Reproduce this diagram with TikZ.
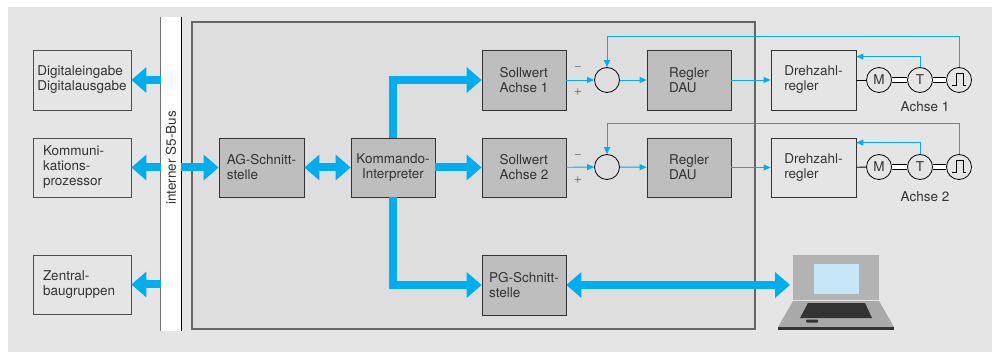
\documentclass[tikz,border=0pt]{standalone}
\usepackage{fontspec}
\setmainfont{TeX Gyre Heros}
\usepackage{tikz}
\usetikzlibrary{arrows.meta, positioning}
\usepackage{xcolor}
\definecolor{busblue}{HTML}{00AEEF}
\definecolor{panelgray}{HTML}{E5E5E5}
\definecolor{unitgray}{HTML}{DEDEDE}
\definecolor{blockgray}{HTML}{BEBEBE}
\definecolor{edgegray}{HTML}{666666}
\definecolor{textgray}{HTML}{333333}
\definecolor{lidgray}{HTML}{B3B3B3}
\definecolor{basegray}{HTML}{A9A9A9}
\definecolor{keydark}{HTML}{333333}
\definecolor{screenblue}{HTML}{C5E6F7}
\newcommand{\blockfont}{\fontsize{13.5}{15}\selectfont}

\begin{document}
\begin{tikzpicture}[
  x=1pt, y=-1pt,
  block/.style={
    draw=black!80, line width=0.8pt, fill=blockgray,
    minimum width=84pt, minimum height=59pt, inner sep=0pt,
    font=\blockfont, text=textgray, align=left
  },
  plainblock/.style={block, fill=panelgray},
  sidebox/.style={plainblock, draw=black!70, minimum width=98pt},
  fat/.style={busblue, line width=8pt, -{Triangle[length=15pt,width=25pt]}},
  fatboth/.style={busblue, line width=8pt,
    {Triangle[length=15pt,width=25pt]}-{Triangle[length=15pt,width=25pt]}},
  thin/.style={busblue, line width=0.9pt, -{Triangle[length=7pt,width=6pt]}},
  sum/.style={circle, draw, line width=0.8pt, minimum size=25pt, inner sep=0pt,
    font=\blockfont, text=textgray},
  shaft/.style={double=white, double distance=4pt, line width=0.7pt},
  sign/.style={font=\normalsize, text=black}
]
  \useasboundingbox (0,0) rectangle (992,352);
  \fill[panelgray] (8,7) rectangle (992,352);

  % baugruppe
  \draw[edgegray, line width=1.2pt, fill=unitgray] (192,22) rectangle (755,329);

  % S5 bus
  \node[fill=white, minimum width=20pt, minimum height=314pt, inner sep=0pt] (bus) at (171,174) {};
  \draw[black!55, line width=1.2pt] (bus.north west) -- (bus.south west);
  \draw[black, line width=1pt] (bus.north east) -- (bus.south east);
  \node[rotate=90, font=\blockfont, text=textgray] (buslabel) at (171,158) {interner S5-Bus};

  % external modules
  \node[sidebox, minimum height=60pt] (dio) at (82,80) {Digitaleingabe\\Digitalausgabe};
  \node[sidebox, text width=78pt] (kp) at (82,167.5) {Kommuni-\\kations-\\prozessor};
  \node[sidebox, text width=78pt] (zb) at (82,284.5) {Zentral-\\baugruppen};

  % blocks
  \node[block, minimum width=85pt] (ag) at (261.5,167.5) {AG-Schnitt-\\stelle};
  \node[block, align=center] (kmd) at (393,167.5) {Kommando-\\Interpreter};
  \node[block, minimum height=60pt] (soll1) at (524,80) {Sollwert\\Achse 1};
  \node[block] (soll2) at (524,167.5) {Sollwert\\Achse 2};
  \node[block, minimum height=60pt] (pg) at (524,285) {PG-Schnitt-\\stelle};
  \node[sum] (sum1) at (607,80) {};
  \node[sum] (sum2) at (607,167) {};
  \node[block, minimum height=60pt] (dau1) at (689,80) {Regler\\DAU};
  \node[block] (dau2) at (689,167.5) {Regler\\DAU};
  \node[plainblock, minimum width=85pt, minimum height=60pt] (drz1) at (813.5,80) {Drehzahl-\\regler};
  \node[plainblock, minimum width=85pt] (drz2) at (813.5,167.5) {Drehzahl-\\regler};

  \node[sign] (minus1) at (578,67) {$-$};
  \node[sign] (plus1) at (578,92) {$+$};
  \node[sign] (minus2) at (578,155) {$-$};
  \node[sign] (plus2) at (578,180) {$+$};

  % drives
  \node[sum] (mot1) at (879,80) {M};
  \node[sum] (tach1) at (920,80) {T};
  \node[sum] (enc1) at (959,80) {};
  \node[sum] (mot2) at (879,167) {M};
  \node[sum] (tach2) at (920,167) {T};
  \node[sum] (enc2) at (959,167) {};
  \draw[line width=0.8pt] (952,85) -- (956,85) -- (956,73) -- (963,73) -- (963,85) -- (966,85);
  \draw[line width=0.8pt] (952,172) -- (956,172) -- (956,160) -- (963,160) -- (963,172) -- (966,172);
  \node[font=\blockfont, text=textgray] (axis1) at (925,107) {Achse 1};
  \node[font=\blockfont, text=textgray] (axis2) at (925,197) {Achse 2};

  % laptop
  \fill[lidgray] (793,255) rectangle (879,300);
  \fill[screenblue] (814,264) rectangle (859,294);
  \fill[basegray] (793,301) -- (879,301) -- (894,327) -- (778,327) -- cycle;
  \fill[keydark] (778,326.5) rectangle (894,330);
  \fill[keydark] (808,303) -- (865,303) -- (872,318) -- (800,318) -- cycle;
  \fill[keydark, rounded corners=1pt] (806,319.5) rectangle (818,322.5);
  \coordinate (pc) at (790,285);

  % bus connections
  \draw[fat] (bus.west |- dio) -- (dio);
  \draw[fat] (bus.west |- kp) -- (kp);
  \draw[fat] (bus.west |- zb) -- (zb);
  \draw[fat] (bus.east |- ag) -- (ag);
  \draw[fatboth] (ag) -- (kmd);
  \draw[fat] (kmd) -- (soll2);
  \draw[fat] (kmd.north) |- (soll1);
  \draw[fat] (kmd.south) |- (pg);
  \draw[fatboth] (pg) -- (pc);

  % control loops
  \draw[thin] (soll1) -- (sum1);
  \draw[thin] (sum1) -- (dau1);
  \draw[thin] (dau1) -- (drz1);
  \draw[thin] (soll2) -- (sum2);
  \draw[thin] (sum2) -- (dau2);
  \draw[thin] (dau2) -- (drz2);
  \draw[line width=0.8pt] (drz1) -- (mot1);
  \draw[line width=0.8pt] (drz2) -- (mot2);
  \draw[shaft] (mot1) -- (tach1);
  \draw[shaft] (tach1) -- (enc1);
  \draw[shaft] (mot2) -- (tach2);
  \draw[shaft] (tach2) -- (enc2);
  \draw[thin] (enc1.north) -- ++(0,-31) -| (sum1.north);
  \draw[thin] (enc2.north) -- ++(0,-30.5) -| (sum2.north);
  \draw[thin] (tach1.north) |- ([yshift=-7pt]drz1.north east);
  \draw[thin] (tach2.north) |- ([yshift=-5pt]drz2.north east);
\end{tikzpicture}
\end{document}
